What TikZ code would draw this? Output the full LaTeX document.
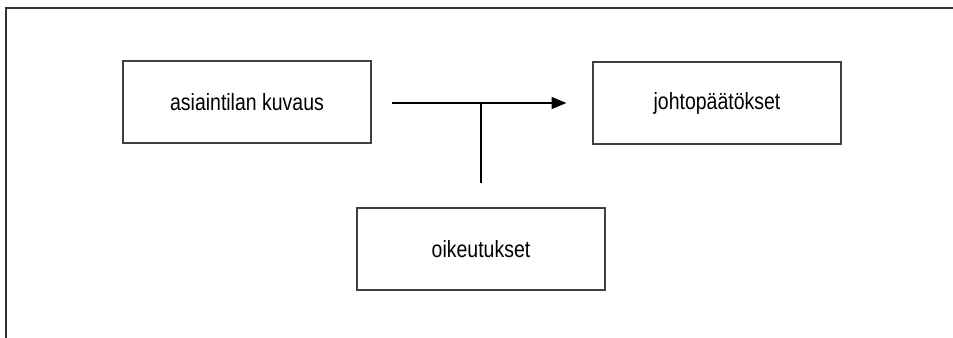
\documentclass[tikz,border=0pt]{standalone}
\usepackage{fontspec}
\setmainfont{Liberation Sans}[FakeStretch=0.83]
\usetikzlibrary{arrows.meta}

\begin{document}
\begin{tikzpicture}[x=0.75pt,y=-0.75pt,line width=0.8pt,font=\fontsize{17.6}{20}\selectfont,
  box/.style={draw=black!75,line width=1pt,minimum width=186pt,minimum height=61.5pt,inner sep=0pt}]

\useasboundingbox (0,0) rectangle (953,338);
\draw[black!80,line width=1.1pt] (953,8) -- (6,8) -- (6,338);

\node[box] (kuvaus) at (247,102) {asiaintilan kuvaus};
\node[box] (johto) at (717,103) {johtopäätökset};
\node[box] (oik) at (481,249) {oikeutukset};
\coordinate (j) at (481,103);

\draw[-{Triangle[length=11pt,width=9pt]},shorten <=15pt,shorten >=19.5pt] (kuvaus.east |- j) -- (johto.west |- j);
\draw[shorten <=18.5pt] (oik.north) -- (j);

\end{tikzpicture}
\end{document}
